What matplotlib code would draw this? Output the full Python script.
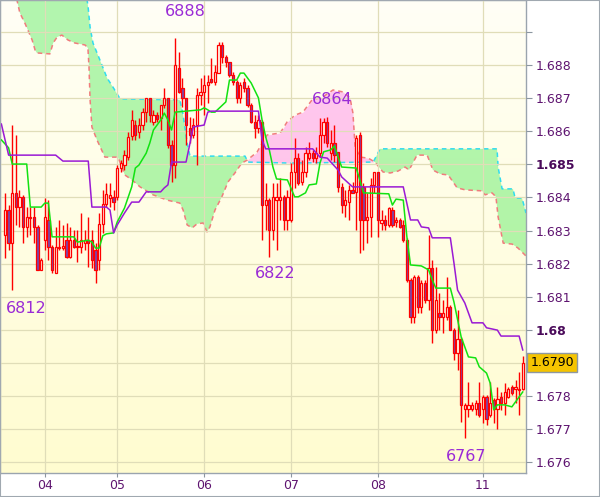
"""Ichimoku chart, hourly bars 04-11.

Prices are stored as the last four digits (6836.2 -> 1.68362), the same
way the chart labels its swing highs and lows.
"""
import numpy as np
import matplotlib
matplotlib.use('Agg')
import matplotlib.pyplot as plt
import matplotlib.transforms as mtransforms
from matplotlib.colors import LinearSegmentedColormap
from matplotlib.patches import Rectangle

OUT_PNG = 'out.png'

OPEN = [
    6828.7, 6836.2, 6826.2, 6841.4, 6837.1, 6840.2, 6831.1, 6833.8, 6834.1, 6831.1, 6818.1, 6827.1,
    6833.2, 6825.0, 6817.2, 6824.7, 6824.7, 6827.1, 6822.0, 6827.1, 6825.0, 6825.0, 6826.2, 6827.1,
    6827.1, 6824.1, 6821.1, 6832.0, 6838.0, 6839.8, 6840.2, 6840.2, 6848.9, 6849.8, 6852.2, 6858.6,
    6861.9, 6859.8, 6861.9, 6865.8, 6870.1, 6862.8, 6864.9, 6864.0, 6868.0, 6870.1, 6855.9, 6849.8,
    6879.1, 6873.1, 6870.1, 6861.0, 6858.9, 6861.9, 6871.0, 6871.9, 6874.0, 6875.8, 6874.9, 6877.6,
    6886.1, 6882.5, 6881.0, 6877.0, 6874.9, 6870.1, 6874.9, 6873.1, 6868.0, 6862.8, 6861.0, 6862.8,
    6837.7, 6839.2, 6830.2, 6839.2, 6839.2, 6840.2, 6833.2, 6833.2, 6847.7, 6851.9, 6844.7, 6847.7,
    6851.9, 6853.4, 6851.9, 6853.4, 6858.9, 6862.8, 6853.4, 6856.5, 6853.8, 6843.2, 6837.7, 6838.6,
    6842.3, 6841.7, 6858.9, 6843.2, 6833.2, 6834.1, 6843.8, 6847.7, 6832.3, 6833.2, 6831.7, 6836.2,
    6832.6, 6833.2, 6831.7, 6827.1, 6815.1, 6803.9, 6816.0, 6806.9, 6814.2, 6809.0, 6818.7, 6799.9,
    6805.1, 6803.9, 6803.9, 6806.9, 6799.9, 6793.0, 6797.2, 6776.1, 6776.1, 6776.1, 6776.1, 6777.9,
    6776.1, 6779.7, 6774.2, 6778.8, 6776.1, 6779.7, 6777.9, 6779.7, 6782.7, 6782.1, 6781.8, 6782.1,
]
HIGH = [
    6841.4, 6837.7, 6861.9, 6858.9, 6842.3, 6840.8, 6837.1, 6837.1, 6837.1, 6831.7, 6821.7, 6839.8,
    6839.2, 6825.6, 6831.1, 6833.2, 6831.7, 6832.3, 6831.1, 6830.2, 6830.2, 6835.3, 6830.2, 6834.1,
    6830.2, 6826.2, 6835.3, 6842.3, 6844.4, 6844.4, 6842.3, 6849.8, 6851.3, 6854.4, 6859.8, 6866.5,
    6863.4, 6864.0, 6867.1, 6870.1, 6870.1, 6866.5, 6865.8, 6868.0, 6873.1, 6870.1, 6857.4, 6888.2,
    6884.0, 6876.1, 6870.1, 6864.3, 6864.0, 6873.1, 6876.1, 6877.0, 6877.0, 6882.2, 6880.0, 6887.0,
    6887.0, 6883.1, 6881.0, 6877.9, 6875.5, 6874.9, 6876.1, 6874.0, 6868.6, 6864.9, 6864.9, 6863.4,
    6844.4, 6839.8, 6844.4, 6844.4, 6845.9, 6840.8, 6842.3, 6850.4, 6858.0, 6853.4, 6851.3, 6855.3,
    6856.8, 6854.4, 6855.3, 6864.0, 6864.0, 6864.3, 6860.4, 6861.9, 6853.8, 6844.4, 6842.3, 6843.8,
    6844.7, 6858.9, 6859.8, 6844.4, 6841.4, 6845.9, 6847.7, 6847.7, 6836.2, 6834.7, 6837.1, 6837.1,
    6834.1, 6833.8, 6833.2, 6827.8, 6815.7, 6816.6, 6816.6, 6815.1, 6815.1, 6828.7, 6821.1, 6819.0,
    6811.1, 6809.0, 6816.0, 6807.5, 6800.6, 6806.0, 6797.8, 6777.9, 6784.2, 6778.2, 6778.8, 6784.2,
    6780.3, 6780.3, 6784.2, 6779.4, 6782.7, 6781.2, 6783.9, 6782.7, 6783.3, 6784.8, 6787.2, 6792.1,
]
LOW = [
    6821.7, 6824.1, 6812.0, 6831.7, 6831.1, 6826.2, 6828.1, 6828.7, 6826.2, 6818.1, 6818.1, 6824.1,
    6821.1, 6817.2, 6817.2, 6824.1, 6824.1, 6821.7, 6821.7, 6824.7, 6820.5, 6823.2, 6824.1, 6819.0,
    6818.7, 6814.2, 6818.1, 6829.3, 6837.1, 6837.1, 6836.2, 6839.2, 6847.7, 6848.3, 6851.3, 6857.4,
    6857.4, 6858.0, 6860.4, 6862.8, 6862.8, 6861.9, 6862.8, 6860.4, 6867.1, 6855.0, 6844.7, 6845.9,
    6871.6, 6867.4, 6855.9, 6856.5, 6858.0, 6849.8, 6868.0, 6864.9, 6868.6, 6874.6, 6874.0, 6877.6,
    6880.7, 6879.4, 6876.4, 6874.0, 6868.6, 6868.6, 6871.9, 6867.4, 6862.5, 6858.0, 6859.5, 6827.1,
    6830.2, 6822.0, 6827.1, 6824.1, 6833.2, 6830.2, 6830.2, 6832.6, 6842.9, 6843.8, 6843.8, 6846.2,
    6851.3, 6850.7, 6850.4, 6852.2, 6856.5, 6855.3, 6851.3, 6850.7, 6841.7, 6835.3, 6834.1, 6833.2,
    6841.4, 6830.2, 6823.2, 6824.1, 6826.2, 6828.1, 6841.4, 6828.1, 6830.2, 6830.2, 6831.1, 6831.1,
    6831.1, 6830.8, 6826.5, 6814.5, 6802.1, 6802.1, 6805.1, 6805.1, 6808.1, 6806.0, 6796.0, 6799.0,
    6799.9, 6799.0, 6803.0, 6799.9, 6790.9, 6787.9, 6772.1, 6767.3, 6773.6, 6775.5, 6774.2, 6773.6,
    6771.8, 6771.2, 6773.6, 6771.8, 6770.0, 6775.8, 6774.2, 6779.4, 6780.3, 6777.9, 6774.2, 6781.8,
]
CLOSE = [
    6836.2, 6826.2, 6841.4, 6837.1, 6840.2, 6831.1, 6834.1, 6834.1, 6831.1, 6818.1, 6821.1, 6834.1,
    6825.0, 6818.1, 6825.0, 6825.0, 6825.3, 6822.0, 6827.1, 6825.0, 6825.3, 6827.1, 6827.1, 6826.2,
    6821.1, 6818.1, 6832.0, 6838.0, 6841.1, 6840.8, 6838.6, 6848.9, 6850.4, 6852.8, 6858.3, 6863.4,
    6858.9, 6861.9, 6865.8, 6870.1, 6864.9, 6864.9, 6863.7, 6868.0, 6870.1, 6855.9, 6849.8, 6880.0,
    6871.9, 6870.1, 6861.9, 6858.9, 6861.9, 6871.0, 6871.9, 6874.0, 6874.9, 6874.9, 6877.9, 6886.1,
    6882.5, 6881.0, 6877.0, 6874.9, 6870.1, 6874.0, 6873.1, 6868.0, 6862.8, 6861.0, 6863.4, 6837.7,
    6839.2, 6830.2, 6840.2, 6840.2, 6840.2, 6833.2, 6840.2, 6847.7, 6851.9, 6844.4, 6847.7, 6853.4,
    6853.4, 6851.9, 6853.4, 6858.9, 6862.8, 6856.5, 6856.5, 6852.8, 6843.2, 6837.7, 6839.2, 6842.3,
    6841.4, 6858.0, 6833.2, 6833.2, 6834.1, 6843.8, 6847.7, 6833.2, 6833.2, 6831.7, 6836.8, 6831.7,
    6833.2, 6831.1, 6827.1, 6815.1, 6803.9, 6816.0, 6806.9, 6814.2, 6809.0, 6818.7, 6799.9, 6809.0,
    6803.9, 6805.1, 6806.9, 6799.9, 6793.0, 6797.2, 6777.3, 6777.3, 6777.3, 6777.3, 6777.9, 6774.2,
    6779.7, 6773.0, 6777.9, 6776.1, 6779.1, 6777.9, 6781.2, 6782.1, 6780.9, 6782.7, 6782.1, 6790.0,
]

# Tenkan-sen (green) and Kijun-sen (purple), read at their corners
TENKAN_IDX = [-1, 1, 2, 6, 7, 10, 11, 12, 13, 19, 20, 23, 24, 25, 26, 27, 28, 30, 31, 33,
              35, 36, 37, 39, 40, 41, 43, 44, 45, 46, 47, 54, 55, 56, 57, 58, 61, 62, 64, 65,
              66, 68, 70, 71, 72, 73, 74, 75, 78, 80, 81, 83, 84, 86, 87, 88, 90, 91, 92, 93,
              97, 98, 99, 106, 107, 108, 110, 111, 112, 115, 117, 118, 119, 123, 124, 126, 128, 130, 131, 133,
              134, 135, 136, 138, 140, 141, 143]
TENKAN = [6857.4, 6855.0, 6850.1, 6850.1, 6837.1, 6837.1, 6838.3, 6838.3, 6828.1, 6828.1,
          6826.5, 6827.1, 6826.5, 6824.7, 6824.7, 6828.4, 6829.0, 6829.3, 6832.6, 6836.8,
          6843.2, 6848.9, 6849.8, 6853.4, 6856.5, 6860.4, 6863.4, 6865.5, 6863.4, 6860.4,
          6865.8, 6866.5, 6867.1, 6866.5, 6865.8, 6865.8, 6868.9, 6875.5, 6875.5, 6877.6,
          6877.6, 6874.6, 6870.1, 6863.4, 6858.3, 6854.4, 6849.2, 6845.6, 6845.3, 6840.2,
          6840.2, 6841.4, 6843.8, 6844.1, 6850.4, 6853.8, 6854.4, 6855.6, 6852.2, 6849.2,
          6848.9, 6845.3, 6841.4, 6841.1, 6837.7, 6839.5, 6839.2, 6828.1, 6819.6, 6819.3,
          6818.1, 6815.1, 6812.6, 6812.6, 6808.4, 6797.8, 6791.8, 6791.5, 6788.8, 6786.9,
          6783.9, 6775.8, 6777.3, 6777.3, 6776.7, 6778.2, 6781.2]
KIJUN_IDX = [-1, 1, 14, 16, 23, 24, 28, 29, 30, 31, 33, 35, 37, 39, 43, 44, 45, 46, 50, 51,
             52, 55, 56, 57, 70, 71, 72, 85, 86, 87, 89, 92, 93, 96, 110, 112, 114, 115, 117, 118,
             123, 124, 125, 127, 129, 132, 133, 136, 137, 142, 143]
KIJUN = [6862.2, 6852.8, 6852.8, 6851.0, 6851.0, 6837.1, 6837.1, 6836.2, 6829.3, 6831.7,
         6835.3, 6838.6, 6838.6, 6841.7, 6841.7, 6842.9, 6843.8, 6850.7, 6850.7, 6855.9,
         6861.3, 6861.9, 6865.8, 6866.1, 6866.1, 6857.4, 6854.7, 6854.7, 6853.4, 6852.2,
         6851.9, 6848.3, 6846.2, 6843.2, 6843.2, 6833.2, 6833.2, 6831.1, 6830.8, 6827.8,
         6827.8, 6820.2, 6812.0, 6808.1, 6802.1, 6802.1, 6800.6, 6799.9, 6798.1, 6798.1, 6793.9]

# Senkou span A (cyan) and span B (salmon), shifted cloud
SPAN_A_IDX = [-1.4, 22.4, 22.9, 23.5, 24.3, 26.2, 28.2, 29.8, 31.8, 48.3, 49.2, 50.3, 51.1,
              66.3, 67.1, 78.7, 101.7, 103.6, 135.9, 136.2, 137.3, 140.3, 140.9, 142.8, 143.9]
SPAN_A = [6911.8, 6901.2, 6898.2, 6891.5, 6886.7, 6881.6, 6876.1, 6873.4, 6869.8, 6869.5,
          6864.9, 6856.5, 6852.5, 6852.5, 6850.7, 6850.4, 6850.7, 6854.7, 6854.7, 6849.2,
          6842.6, 6842.6, 6839.8, 6839.8, 6835.3]
SPAN_B_IDX = [-1.4, 3.3, 4.1, 5.5, 7.5, 8.3, 8.8, 12.4, 13.3, 14.4, 15.7, 17.4, 19.3, 22.1,
              22.9, 23.2, 23.5, 24.0, 25.4, 27.6, 31.2, 33.1, 35.1, 37.3, 40.9, 44.8, 48.3,
              49.2, 50.3, 51.7, 53.0, 54.7, 55.8, 56.6, 58.0, 59.9, 61.6, 63.5, 65.4, 66.9,
              69.6, 72.4, 76.0, 77.9, 80.1, 82.3, 84.8, 87.8, 90.6, 93.4, 95.3, 96.1, 96.7,
              98.1, 100.3, 102.2, 104.4, 106.4, 108.6, 110.5, 111.6, 113.8, 116.6, 118.2,
              120.2, 122.4, 124.9, 127.1, 131.8, 132.6, 134.5, 135.6, 136.2, 137.6, 140.1,
              141.7, 143.9]
SPAN_B = [6910.3, 6899.7, 6895.8, 6892.7, 6887.6, 6884.6, 6883.7, 6883.4, 6886.7, 6888.5,
          6889.1, 6887.6, 6886.7, 6886.1, 6885.2, 6879.4, 6869.5, 6861.3, 6857.4, 6852.2,
          6852.2, 6846.8, 6845.3, 6843.2, 6840.8, 6839.2, 6838.3, 6836.2, 6831.7, 6830.8,
          6832.0, 6832.3, 6829.6, 6831.1, 6836.2, 6840.2, 6844.7, 6847.4, 6850.4, 6851.3,
          6853.7, 6858.9, 6859.5, 6862.8, 6864.9, 6865.8, 6869.5, 6870.4, 6872.5, 6871.9,
          6870.1, 6865.5, 6855.3, 6852.2, 6851.9, 6850.7, 6847.7, 6847.4, 6848.0, 6849.2,
          6848.3, 6852.8, 6852.8, 6848.3, 6847.1, 6846.8, 6842.9, 6842.3, 6842.0, 6840.8,
          6841.4, 6840.2, 6834.1, 6826.2, 6825.9, 6824.7, 6822.3]

DAY_LABELS = ['04', '05', '06', '07', '08', '11']
DAY_START = [11, 31, 55, 79, 103, 132]


def price(v):
    return 1 + np.asarray(v, dtype=float) / 10000


def draw_background(ax):
    cmap = LinearSegmentedColormap.from_list('bg', ['#fffcd0', '#fffff6'])
    grad = np.linspace(0, 1, 256).reshape(-1, 1)
    ax.imshow(grad, cmap=cmap, extent=[0, 1, 0, 1], transform=ax.transAxes,
              aspect='auto', origin='lower', zorder=0)


def draw_cloud(ax):
    xs = np.union1d(SPAN_A_IDX, SPAN_B_IDX)
    a = np.interp(xs, SPAN_A_IDX, price(SPAN_A))
    b = np.interp(xs, SPAN_B_IDX, price(SPAN_B))
    ax.fill_between(xs, a, b, where=a >= b, interpolate=True, color='#80ef80',
                    alpha=0.6, lw=0, zorder=1)
    ax.fill_between(xs, a, b, where=a < b, interpolate=True, color='#ffa1ed',
                    alpha=0.6, lw=0, zorder=1)
    ax.plot(SPAN_A_IDX, price(SPAN_A), color='#30dcef', lw=1.1, ls=(0, (3, 2.5)), zorder=2)
    ax.plot(SPAN_B_IDX, price(SPAN_B), color='#f07c7c', lw=1.1, ls=(0, (3, 2.5)), zorder=2)


def draw_candles(ax):
    o, h, l, c = price(OPEN), price(HIGH), price(LOW), price(CLOSE)
    idx = np.arange(len(o))
    up = c >= o
    ax.vlines(idx, l, h, color='#ff0000', lw=1.0, zorder=3)
    bottom = np.minimum(o, c)
    height = np.abs(c - o)
    face = np.where(up, '#fffff0', '#7a46ac')
    ax.bar(idx, height, bottom=bottom, width=0.62, color=face, edgecolor='#ff0000',
           linewidth=0.9, zorder=3.5)


def main():
    fig = plt.figure(figsize=(6.0, 4.97), dpi=100)
    fig.patch.set_facecolor('white')
    ax = fig.add_axes([0, 24 / 497, 526 / 600, 473 / 497])

    draw_background(ax)
    draw_cloud(ax)
    draw_candles(ax)
    ax.plot(TENKAN_IDX, price(TENKAN), color='#12e212', lw=1.1, zorder=4)
    ax.plot(KIJUN_IDX, price(KIJUN), color='#9a1ad4', lw=1.1, zorder=4)

    ax.set_xlim(-1.38, 143.9)
    ax.set_ylim(1.67567, 1.68997)

    # swing labels
    for txt, x, y in [('6888', 49.7, 6896.1), ('6864', 90.3, 6869.5), ('6822', 74.6, 6816.9),
                      ('6812', 5.8, 6806.3), ('6767', 127.3, 6761.8)]:
        ax.text(x, price(y), txt, color='#9a2bd6', fontsize=11.5, ha='center', va='center', zorder=6)

    # axes styling
    ax.yaxis.tick_right()
    yt = np.round(np.arange(1.676, 1.6895, 0.001), 3)
    ylabels = []
    for v in yt:
        if np.isclose(v, 1.689) or np.isclose(v, 1.679):
            ylabels.append('')
        elif np.isclose(v, 1.685) or np.isclose(v, 1.68):
            ylabels.append(f'{v:g}')
        else:
            ylabels.append(f'{v:.3f}')
    ax.set_yticks(yt)
    ax.set_yticklabels(ylabels)
    ax.set_xticks(DAY_START)
    ax.set_xticklabels(DAY_LABELS)
    ax.tick_params(axis='y', direction='out', length=4, width=0.8, color='#8c96a0',
                   pad=3, labelsize=9, labelcolor='#5e1470')
    ax.tick_params(axis='x', direction='out', length=3, width=0.8, color='#8c96a0',
                   pad=1, labelsize=9, labelcolor='#5e1470')
    for lab, v in zip(ax.get_yticklabels(), yt):
        if np.isclose(v, 1.685) or np.isclose(v, 1.68):
            lab.set_fontweight('bold')
            lab.set_color('#4a0a5a')
    ax.grid(True, color='#e0ddb8', lw=0.9, zorder=0.5)
    ax.set_axisbelow(False)
    for sp in ax.spines.values():
        sp.set_color('#9aa4ae')
        sp.set_linewidth(1.0)

    # last price marker
    last = price(CLOSE[-1])
    trans = mtransforms.blended_transform_factory(ax.transAxes, ax.transData)
    ax.plot([1.0, 1.008], [last, last], color='#8c96a0', lw=0.8, transform=trans, clip_on=False)
    ax.text(1.008, last, f'{last:.4f}', transform=trans, ha='left', va='center', fontsize=9,
            color='black', clip_on=False,
            bbox=dict(boxstyle='square,pad=0.25', fc='#f5c400', ec='#8e98a2', lw=1))

    fig.patches.append(Rectangle((0, 0), 1, 1, transform=fig.transFigure, fill=False,
                                 ec='#a0a8b0', lw=1.5))
    fig.savefig(OUT_PNG, dpi=100)
    plt.close(fig)


if __name__ == '__main__':
    main()
